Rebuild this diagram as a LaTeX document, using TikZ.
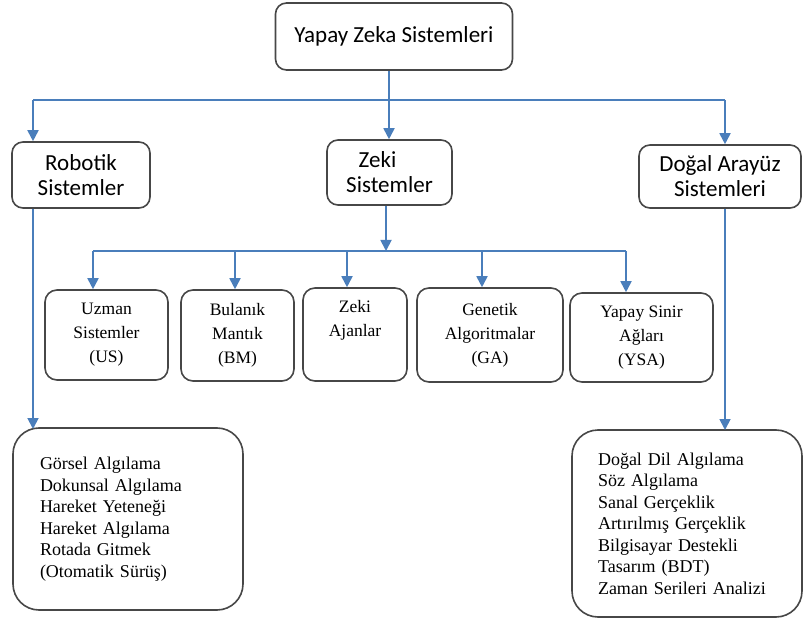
\documentclass[tikz,border=0pt]{standalone}
\usepackage{fontspec}
\setmainfont{Liberation Serif}
\newfontfamily\boxsans{Carlito}
\usetikzlibrary{arrows.meta}
\definecolor{linkblue}{HTML}{4A7EBB}
\definecolor{edgegray}{HTML}{474747}

\begin{document}
\begin{tikzpicture}[x=1pt,y=-1pt,
  frame/.style={draw=edgegray, line width=1.6pt, fill=white, inner sep=0pt, align=center},
  headbox/.style={frame, rounded corners=11pt, font=\boxsans\fontsize{23}{25}\selectfont},
  leafbox/.style={frame, rounded corners=12pt, font=\fontsize{17.5}{24}\selectfont},
  listbox/.style={frame, rounded corners=26pt, align=left, inner xsep=27pt,
    font=\fontsize{18}{21.5}\selectfont},
  conn/.style={draw=linkblue, line width=1.8pt},
  arr/.style={conn, -{Triangle[width=11pt,length=11pt]}}
]
\useasboundingbox (0,0) rectangle (803,620);

% top level
\node[headbox, minimum width=237pt, minimum height=67pt] (root) at (394,36.5) {Yapay Zeka Sistemleri};

% second level
\node[headbox, minimum width=138pt, minimum height=66pt] (rob) at (81,175) {Robotik\\Sistemler};
\node[headbox, minimum width=125pt, minimum height=65pt] (zeki) at (389.5,172.5) {Zeki\kern24pt\\Sistemler};
\node[headbox, minimum width=162pt, minimum height=63pt] (dog) at (720,176.5) {Doğal Arayüz\\Sistemleri};

% intelligent systems branches
\node[leafbox, minimum width=123pt, minimum height=90pt] (us) at (106.5,335) {Uzman\\Sistemler\\(US)};
\node[leafbox, minimum width=113pt, minimum height=91pt] (bm) at (237.5,335.5) {Bulanık\\Mantık\\(BM)};
\node[leafbox, minimum width=104pt, minimum height=93pt] (za) at (355,334.5) {Zeki\\Ajanlar\\\strut};
\node[leafbox, minimum width=146pt, minimum height=94pt] (ga) at (490,335) {Genetik\\Algoritmalar\\(GA)};
\node[leafbox, minimum width=143pt, minimum height=89pt] (ysa) at (641.5,337.5) {Yapay Sinir\\Ağları\\(YSA)};

% application lists
\node[listbox, text width=176pt, minimum height=182pt] (robl) at (128,519)
  {Görsel Algılama\\Dokunsal Algılama\\Hareket Yeteneği\\Hareket Algılama\\Rotada Gitmek\\(Otomatik Sürüş)};
\node[listbox, inner xsep=26pt, text width=178pt, minimum height=187pt] (dogl) at (687,523.5)
  {Doğal Dil Algılama\\Söz Algılama\\Sanal Gerçeklik\\Artırılmış Gerçeklik\\Bilgisayar Destekli\\Tasarım (BDT)\\Zaman Serileri Analizi};

% first distribution line
\coordinate (t0) at (389,100);
\coordinate (tL) at (33,100);
\coordinate (tR) at (725,100);
\draw[conn] (root.south -| t0) -- (t0);
\draw[conn] (tL) -- (tR);
\draw[arr] (tL) -- (tL |- rob.north);
\draw[arr] (t0) -- (t0 |- zeki.north);
\draw[arr] (tR) -- (tR |- dog.north);

% second distribution line
\coordinate (z0) at (386,251);
\coordinate (zL) at (93,251);
\coordinate (zR) at (626,251);
\draw[arr] (z0 |- zeki.south) -- (z0);
\draw[conn] (zL) -- (zR);
\coordinate (zb) at (235,251);
\coordinate (zc) at (347,251);
\coordinate (zd) at (482,251);
\draw[arr] (zL) -- (zL |- us.north);
\draw[arr] (zb) -- (zb |- bm.north);
\draw[arr] (zc) -- (zc |- za.north);
\draw[arr] (zd) -- (zd |- ga.north);
\draw[arr] (zR) -- (zR |- ysa.north);

% down to the application lists
\coordinate (rb) at (33,429);
\coordinate (db) at (725,430);
\draw[arr] (tL |- rob.south) -- (rb);
\draw[arr] (tR |- dog.south) -- (db);
\end{tikzpicture}
\end{document}
